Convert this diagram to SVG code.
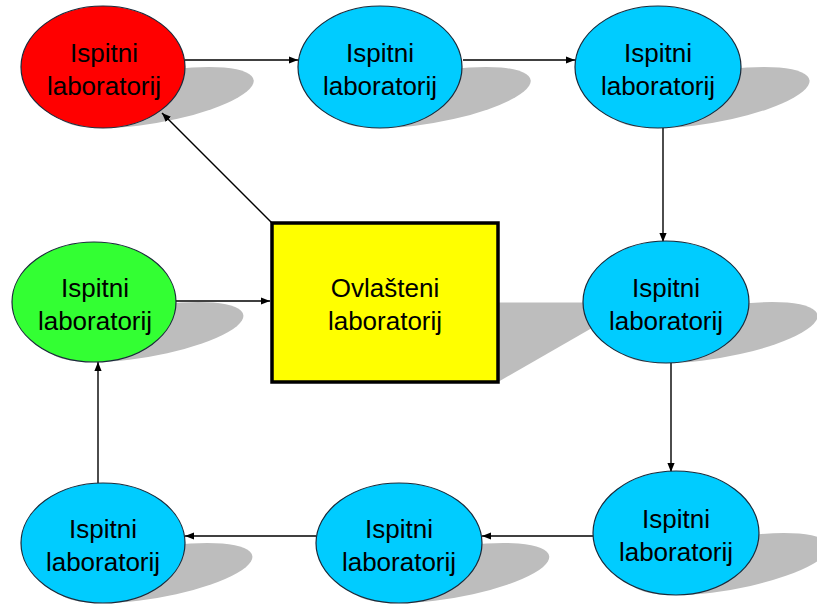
<svg xmlns="http://www.w3.org/2000/svg" width="817" height="605" viewBox="0 0 817 605">
<style>
.sh{fill:#bdbdbd;stroke:none}
.el{stroke:#1a2a3a;stroke-width:1.2}
.blue{fill:#00ccff}
.red{fill:#ff0000}
.green{fill:#33ff33}
.box{fill:#ffff00;stroke:#000;stroke-width:3.5}
.t{font-family:"Liberation Sans",Arial,sans-serif;font-size:26px;fill:#000;text-anchor:middle}
.c{stroke:#000;stroke-width:1.4;fill:none;marker-end:url(#ah)}
</style>
<defs>
<marker id="ah" viewBox="0 0 10 10" refX="10" refY="5" markerWidth="9" markerHeight="9" markerUnits="userSpaceOnUse" orient="auto">
<path d="M0,1 L10,5 L0,9 z" fill="#000"/>
</marker>
</defs>
<rect width="817" height="605" fill="#fff"/>

<!-- shadows (drawn first so nodes sit on top) -->
<g id="shadows">
<ellipse class="sh" cx="103" cy="-61" rx="82" ry="61" transform="translate(103,128) matrix(1,0,-0.87,0.5,0,0) translate(-103,0)"/>
<ellipse class="sh" cx="380" cy="-61" rx="82" ry="61" transform="translate(380,128) matrix(1,0,-0.87,0.5,0,0) translate(-380,0)"/>
<ellipse class="sh" cx="658" cy="-61" rx="83" ry="61" transform="translate(658,128) matrix(1,0,-0.87,0.5,0,0) translate(-658,0)"/>
<ellipse class="sh" cx="94" cy="-60" rx="82" ry="60" transform="translate(94,362) matrix(1,0,-0.87,0.5,0,0) translate(-94,0)"/>
<rect class="sh" x="272" y="-159" width="226" height="159" transform="translate(0,382) matrix(1,0,-0.87,0.5,0,0)"/>
<ellipse class="sh" cx="666" cy="-61" rx="83" ry="61" transform="translate(666,363) matrix(1,0,-0.87,0.5,0,0) translate(-666,0)"/>
<ellipse class="sh" cx="676" cy="-62" rx="83" ry="62" transform="translate(676,595) matrix(1,0,-0.87,0.5,0,0) translate(-676,0)"/>
<ellipse class="sh" cx="399" cy="-60" rx="83" ry="60" transform="translate(399,603) matrix(1,0,-0.87,0.5,0,0) translate(-399,0)"/>
<ellipse class="sh" cx="103" cy="-60" rx="82" ry="60" transform="translate(103,603) matrix(1,0,-0.87,0.5,0,0) translate(-103,0)"/>
</g>

<g id="connectors">
<line class="c" x1="185" y1="60" x2="298" y2="60"/>
<line class="c" x1="463" y1="60" x2="575" y2="60"/>
<line class="c" x1="663" y1="128" x2="663" y2="242"/>
<line class="c" x1="671" y1="363" x2="671" y2="472"/>
<line class="c" x1="593" y1="536" x2="482" y2="536"/>
<line class="c" x1="316" y1="536" x2="185" y2="536"/>
<line class="c" x1="98" y1="483" x2="98" y2="362"/>
<line class="c" x1="176" y1="301" x2="270" y2="301"/>
<line class="c" x1="272" y1="223" x2="162" y2="113"/>
</g>

<g id="n1">
<ellipse class="el red" cx="103" cy="67" rx="82" ry="61"/>
<text class="t" x="104" y="62">Ispitni</text>
<text class="t" x="104" y="95">laboratorij</text>
</g>
<g id="n2">
<ellipse class="el blue" cx="380" cy="67" rx="82" ry="61"/>
<text class="t" x="380" y="62">Ispitni</text>
<text class="t" x="380" y="95">laboratorij</text>
</g>
<g id="n3">
<ellipse class="el blue" cx="658" cy="67" rx="83" ry="61"/>
<text class="t" x="658" y="62">Ispitni</text>
<text class="t" x="658" y="95">laboratorij</text>
</g>
<g id="n4">
<ellipse class="el blue" cx="666" cy="302" rx="83" ry="61"/>
<text class="t" x="666" y="297">Ispitni</text>
<text class="t" x="666" y="330">laboratorij</text>
</g>
<g id="n5">
<ellipse class="el blue" cx="676" cy="533" rx="83" ry="62"/>
<text class="t" x="676" y="528">Ispitni</text>
<text class="t" x="676" y="561">laboratorij</text>
</g>
<g id="n6">
<ellipse class="el blue" cx="399" cy="543" rx="83" ry="60"/>
<text class="t" x="399" y="538">Ispitni</text>
<text class="t" x="399" y="571">laboratorij</text>
</g>
<g id="n7">
<ellipse class="el blue" cx="103" cy="543" rx="82" ry="60"/>
<text class="t" x="103" y="538">Ispitni</text>
<text class="t" x="103" y="571">laboratorij</text>
</g>
<g id="n8">
<ellipse class="el green" cx="94" cy="302" rx="82" ry="60"/>
<text class="t" x="95" y="297">Ispitni</text>
<text class="t" x="95" y="330">laboratorij</text>
</g>
<g id="center">
<rect class="box" x="272" y="223" width="226" height="159"/>
<text class="t" x="385" y="297">Ovlašteni</text>
<text class="t" x="385" y="330">laboratorij</text>
</g>
</svg>
